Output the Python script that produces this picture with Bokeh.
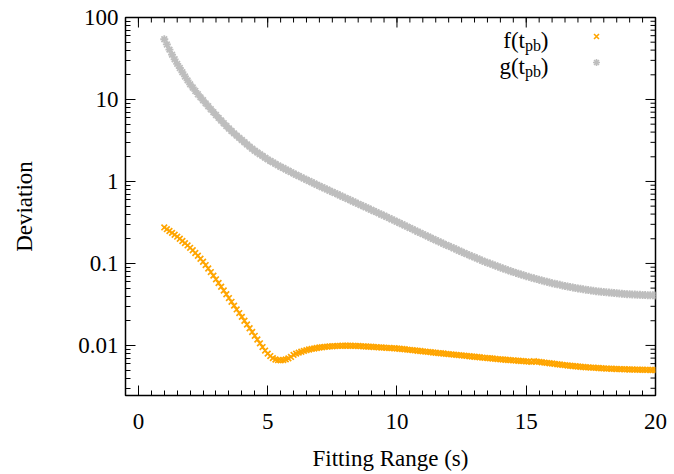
import math
from bokeh.plotting import figure
from bokeh.models import Range1d, FixedTicker, CustomJSTickFormatter, Label
from bokeh.embed import file_html
from bokeh.resources import INLINE

# ---------------- data ----------------
x_start = 1.0      # first fitting range (s)
x_step = 0.1       # sampling step (s)

# f(t_pb) deviation, x = 1.0 ... 20.0 step 0.1
f_vals = [
    0.275, 0.262, 0.249, 0.236, 0.224, 0.212, 0.200, 0.188, 0.177, 0.166,
    0.155, 0.145, 0.134, 0.124, 0.114, 0.105, 0.0955, 0.0867, 0.0785, 0.0710,
    0.0640, 0.0577, 0.0520, 0.0468, 0.0421, 0.0378, 0.0340, 0.0306, 0.0275, 0.0248,
    0.0223, 0.0200, 0.0180, 0.0162, 0.0146, 0.0131, 0.0118, 0.0106, 0.00955, 0.00865,
    0.00794, 0.00741, 0.00700, 0.00673, 0.00661, 0.00658, 0.00664, 0.00676, 0.00695, 0.00724,
    0.00767, 0.00794, 0.00817, 0.00838, 0.00857, 0.00875, 0.00891, 0.00906, 0.00918, 0.00931,
    0.00942, 0.00951, 0.00959, 0.00966, 0.00973, 0.00977, 0.00982, 0.00986, 0.00989, 0.00991,
    0.00991, 0.00991, 0.00991, 0.00989, 0.00986, 0.00984, 0.00979, 0.00975, 0.00971, 0.00966,
    0.00962, 0.00957, 0.00953, 0.00948, 0.00944, 0.00940, 0.00935, 0.00931, 0.00927, 0.00923,
    0.00918, 0.00912, 0.00904, 0.00897, 0.00889, 0.00883, 0.00875, 0.00869, 0.00861, 0.00855,
    0.00847, 0.00841, 0.00834, 0.00828, 0.00820, 0.00815, 0.00807, 0.00802, 0.00796, 0.00789,
    0.00783, 0.00778, 0.00773, 0.00766, 0.00760, 0.00755, 0.00750, 0.00745, 0.00738, 0.00733,
    0.00728, 0.00723, 0.00718, 0.00711, 0.00706, 0.00701, 0.00697, 0.00692, 0.00686, 0.00681,
    0.00676, 0.00673, 0.00668, 0.00665, 0.00661, 0.00658, 0.00653, 0.00650, 0.00646, 0.00643,
    0.00638, 0.00635, 0.00631, 0.00641, 0.00635, 0.00630, 0.00624, 0.00618, 0.00612, 0.00607,
    0.00601, 0.00596, 0.00590, 0.00585, 0.00579, 0.00574, 0.00569, 0.00565, 0.00561, 0.00557,
    0.00553, 0.00550, 0.00546, 0.00542, 0.00540, 0.00537, 0.00535, 0.00532, 0.00530, 0.00527,
    0.00525, 0.00522, 0.00521, 0.00519, 0.00518, 0.00515, 0.00514, 0.00513, 0.00512, 0.00511,
    0.00509, 0.00508, 0.00507, 0.00506, 0.00505, 0.00505, 0.00504, 0.00504, 0.00502, 0.00502,
    0.00501,
]

# g(t_pb) deviation, x = 1.0 ... 20.0 step 0.1
g_vals = [
    54.3, 46.9, 40.6, 35.2, 30.9, 27.2, 24.2, 21.5, 19.1, 17.1,
    15.3, 14.0, 12.7, 11.6, 10.6, 9.77, 8.97, 8.26, 7.60, 7.00,
    6.46, 5.97, 5.53, 5.13, 4.75, 4.42, 4.12, 3.86, 3.62, 3.40,
    3.20, 3.01, 2.83, 2.66, 2.51, 2.37, 2.25, 2.15, 2.05, 1.95,
    1.86, 1.78, 1.71, 1.64, 1.57, 1.51, 1.46, 1.40, 1.35, 1.30,
    1.250, 1.205, 1.164, 1.122, 1.084, 1.047, 1.012, 0.977, 0.944, 0.912,
    0.881, 0.851, 0.824, 0.796, 0.771, 0.745, 0.721, 0.697, 0.675, 0.652,
    0.631, 0.610, 0.590, 0.570, 0.552, 0.533, 0.516, 0.499, 0.483, 0.467,
    0.452, 0.437, 0.423, 0.408, 0.395, 0.383, 0.370, 0.357, 0.345, 0.333,
    0.322, 0.311, 0.301, 0.290, 0.281, 0.271, 0.262, 0.253, 0.244, 0.236,
    0.228, 0.220, 0.213, 0.206, 0.199, 0.192, 0.186, 0.180, 0.174, 0.168,
    0.163, 0.158, 0.153, 0.148, 0.143, 0.139, 0.134, 0.130, 0.126, 0.122,
    0.119, 0.115, 0.112, 0.108, 0.105, 0.102, 0.0995, 0.0968, 0.0942, 0.0916,
    0.0891, 0.0869, 0.0847, 0.0826, 0.0805, 0.0785, 0.0767, 0.0750, 0.0733, 0.0716,
    0.0700, 0.0686, 0.0671, 0.0658, 0.0644, 0.0631, 0.0619, 0.0608, 0.0597, 0.0586,
    0.0575, 0.0566, 0.0557, 0.0548, 0.0540, 0.0531, 0.0524, 0.0516, 0.0509, 0.0502,
    0.0495, 0.0490, 0.0484, 0.0479, 0.0473, 0.0468, 0.0463, 0.0459, 0.0455, 0.0451,
    0.0447, 0.0444, 0.0441, 0.0438, 0.0435, 0.0432, 0.0430, 0.0427, 0.0425, 0.0422,
    0.0420, 0.0418, 0.0417, 0.0415, 0.0414, 0.0412, 0.0411, 0.0410, 0.0409, 0.0408,
    0.0407,
]

x_vals = [round(x_start + x_step * i, 1) for i in range(len(f_vals))]

x_major_ticks = [0, 5, 10, 15, 20]
y_major_ticks = [0.01, 0.1, 1, 10, 100]

x_label = "Fitting Range (s)"
y_label = "Deviation"

# ---------------- layout ----------------
W, H = 674, 474
LEFT, RIGHT, TOP, BOTTOM = 125, 19, 17, 79
X0, X1 = -0.5, 20.0
Y0, Y1 = 0.00245, 100.0
FONT = "Liberation Serif"
FS = "23px"
ORANGE = "#ffa500"
GRAY = "#bebebe"
MAJOR_LEN, MINOR_LEN = 10, 5

p = figure(width=W, height=H, y_axis_type="log",
           x_range=Range1d(X0, X1), y_range=Range1d(Y0, Y1),
           output_backend="svg", toolbar_location=None,
           min_border_left=LEFT, min_border_right=RIGHT,
           min_border_top=TOP, min_border_bottom=BOTTOM)
p.grid.visible = False
p.outline_line_color = "black"
p.outline_line_width = 1.5
p.background_fill_color = "white"
p.border_fill_color = "white"

x_minor = [i * 0.5 for i in range(-1, 41)]
y_minor = [k * 10.0 ** e for e in range(-3, 2) for k in range(2, 10)]

fmt = CustomJSTickFormatter(code="return String(tick);")


def style_axis(ax, ticks, minor):
    ax.ticker = FixedTicker(ticks=ticks, minor_ticks=minor)
    ax.formatter = fmt
    ax.axis_line_color = None
    ax.major_tick_in = MAJOR_LEN
    ax.major_tick_out = 0
    ax.minor_tick_in = MINOR_LEN
    ax.minor_tick_out = 0
    ax.major_tick_line_color = "black"
    ax.minor_tick_line_color = "black"
    ax.major_tick_line_width = 1
    ax.minor_tick_line_width = 1
    ax.major_label_text_font = FONT
    ax.major_label_text_font_size = FS
    ax.major_label_text_color = "black"
    ax.axis_label_text_font = FONT
    ax.axis_label_text_font_size = FS
    ax.axis_label_text_font_style = "normal"
    ax.axis_label_text_color = "black"


xa = p.xaxis[0]
style_axis(xa, x_major_ticks, x_minor)
xa.axis_label = x_label
xa.major_label_standoff = 18
xa.axis_label_standoff = 14

ya = p.yaxis[0]
style_axis(ya, y_major_ticks, y_minor)
ya.axis_label = y_label
ya.major_label_standoff = 7
ya.axis_label_standoff = 38

# ---------------- helpers: pixel position -> data position ----------------
fw = W - LEFT - RIGHT
fh = H - TOP - BOTTOM
L0, L1 = math.log10(Y0), math.log10(Y1)


def px_x(px):
    return X0 + (px - LEFT) / fw * (X1 - X0)


def px_y(py):
    return 10 ** (L0 + (H - BOTTOM - py) / fh * (L1 - L0))


def y_off(val, dpx):
    return 10 ** (math.log10(val) - dpx / fh * (L1 - L0))


def x_off(val, dpx):
    return val + dpx / fw * (X1 - X0)


# mirrored ticks on the top and right frame edges (gnuplot style)
top_x = x_major_ticks + x_minor
top_len = [MAJOR_LEN] * len(x_major_ticks) + [MINOR_LEN] * len(x_minor)
p.segment(x0=top_x, y0=[Y1] * len(top_x), x1=top_x,
          y1=[y_off(Y1, d) for d in top_len], line_color="black", line_width=1)
right_y = y_major_ticks + [v for v in y_minor if Y0 <= v <= Y1]
right_len = [MAJOR_LEN] * len(y_major_ticks) + [MINOR_LEN] * (len(right_y) - len(y_major_ticks))
p.segment(x0=[X1] * len(right_y), y0=right_y,
          x1=[x_off(X1, -d) for d in right_len], y1=right_y,
          line_color="black", line_width=1)

# ---------------- data marks ----------------
p.scatter(x_vals, g_vals, marker="asterisk", size=8, line_color=GRAY,
          line_width=1.8)
p.scatter(x_vals, f_vals, marker="x", size=8, line_color=ORANGE,
          line_width=1.7)

# ---------------- key (top right, gnuplot style) ----------------
def key_entry(name, base_y, marker, color):
    p.add_layout(Label(x=px_x(548), y=px_y(base_y), text=")",
                       text_align="right", text_baseline="alphabetic",
                       text_font=FONT, text_font_size=FS, text_color="black"))
    p.add_layout(Label(x=px_x(540.5), y=px_y(base_y + 5), text="pb",
                       text_align="right", text_baseline="alphabetic",
                       text_font=FONT, text_font_size="16px", text_color="black"))
    p.add_layout(Label(x=px_x(524.5), y=px_y(base_y), text=name + "(t",
                       text_align="right", text_baseline="alphabetic",
                       text_font=FONT, text_font_size=FS, text_color="black"))
    p.scatter([px_x(596)], [px_y(base_y - 4)], marker=marker, size=7,
              line_color=color, line_width=1.6)


key_entry("f", 40, "x", ORANGE)
key_entry("g", 66, "asterisk", GRAY)

open("out.html", "w").write(file_html(p, INLINE))
